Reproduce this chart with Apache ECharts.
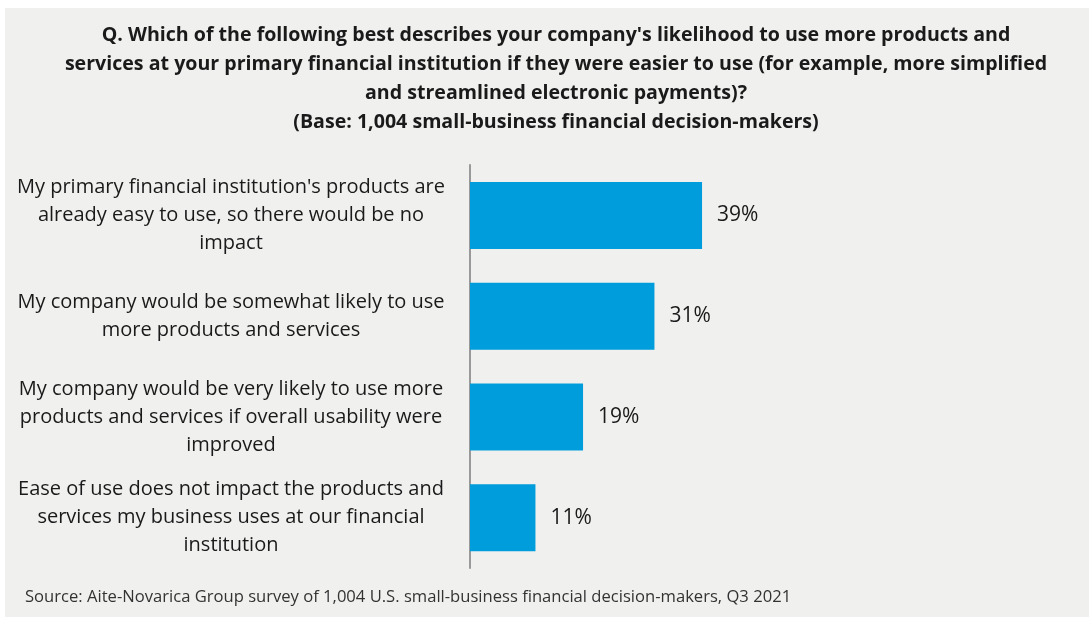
<!DOCTYPE html>
<html>
<head>
<meta charset="utf-8">
<script src="https://cdn.jsdelivr.net/npm/echarts@6/dist/echarts.min.js"></script>
<style>
  html, body { margin: 0; padding: 0; background: #ffffff; }
  #chart { width: 1090px; height: 617px; }
</style>
</head>
<body>
<div id="chart"></div>
<script>
// Survey answers (top to bottom) and share of respondents, in percent
const categories = [
  "My primary financial institution's products are\nalready easy to use, so there would be no\nimpact",
  "My company would be somewhat likely to use\nmore products and services",
  "My company would be very likely to use more\nproducts and services if overall usability were\nimproved",
  "Ease of use does not impact the products and\nservices my business uses at our financial\ninstitution"
];
const shares = [39, 31, 19, 11];

const titleLines = [
  "Q. Which of the following best describes your company's likelihood to use more products and",
  "services at your primary financial institution if they were easier to use (for example, more simplified",
  "and streamlined electronic payments)?",
  "(Base: 1,004 small-business financial decision-makers)"
];
const sourceNote = "Source: Aite-Novarica Group survey of 1,004 U.S. small-business financial decision-makers, Q3 2021";

const FONT = "'Open Sans', 'Noto Sans', sans-serif";
const chart = echarts.init(document.getElementById('chart'), null, { renderer: 'canvas' });

chart.setOption({
  backgroundColor: '#ffffff',
  animation: false,
  graphic: [
    { type: 'rect', z: -10, shape: { x: 5, y: 8, width: 1084, height: 609 }, style: { fill: '#f0f0ef' } },
    {
      type: 'text', x: 556, y: 21.5,
      style: {
        text: titleLines.join('\n'), align: 'center', verticalAlign: 'top',
        font: 'bold 19.6px ' + FONT, lineHeight: 28.8, fill: '#1a1a1a'
      }
    },
    { type: 'text', left: 25, top: 589, style: { text: sourceNote, font: '16.6px ' + FONT, fill: '#333333' } }
  ],
  grid: { left: 470, top: 165, bottom: 49, width: 357 },
  xAxis: { type: 'value', min: 0, max: 60, show: false },
  yAxis: {
    type: 'category',
    data: categories,
    inverse: true,
    axisLine: { show: true, lineStyle: { color: '#999999', width: 2 } },
    axisTick: { show: false },
    axisLabel: {
      align: 'center', margin: 239,
      fontFamily: FONT, fontSize: 20, lineHeight: 28, color: '#1a1a1a'
    }
  },
  series: [{
    type: 'bar',
    data: shares,
    barWidth: 67,
    itemStyle: { color: '#009ddc' },
    label: {
      show: true, position: 'right', distance: 15,
      formatter: p => p.value + '%',
      fontFamily: FONT, fontSize: 21, color: '#1a1a1a'
    }
  }]
});
</script>
</body>
</html>
